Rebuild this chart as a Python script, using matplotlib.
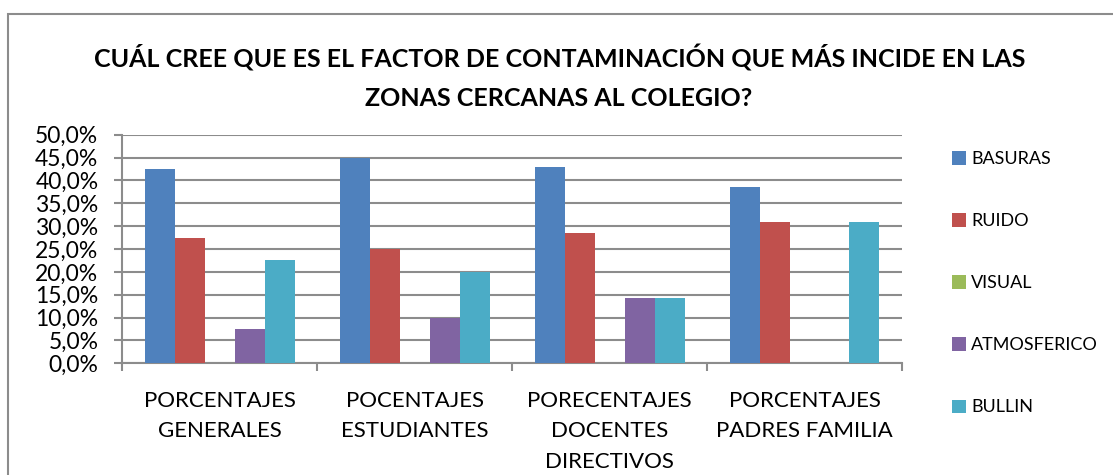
import numpy as np
import matplotlib.pyplot as plt
from matplotlib.patches import Rectangle

# datos
categorias = ['PORCENTAJES\nGENERALES', 'POCENTAJES\nESTUDIANTES',
              'PORECENTAJES\nDOCENTES\nDIRECTIVOS', 'PORCENTAJES\nPADRES FAMILIA']
series = ['BASURAS', 'RUIDO', 'VISUAL', 'ATMOSFERICO', 'BULLIN']
basuras = [42.5, 45.0, 42.9, 38.5]
ruido = [27.5, 25.0, 28.6, 30.8]
visual = [0.0, 0.0, 0.0, 0.0]
atmosferico = [7.5, 10.0, 14.3, 0.0]
bullin = [22.5, 20.0, 14.3, 30.8]
colores = ['#4F81BD', '#C0504D', '#9BBB59', '#8064A2', '#4BACC6']

plt.rcParams['font.family'] = ['Lato', 'DejaVu Sans']

W, H = 1113, 475
fig = plt.figure(figsize=(W / 100, H / 100), dpi=100)

# marco exterior del gráfico
fig.patches.append(Rectangle((8 / W, -0.1), 1.2, (H - 14) / H + 0.1,
                             transform=fig.transFigure, fill=False,
                             edgecolor='#8C8C8C', linewidth=1.5))

ax = fig.add_axes([122 / W, (H - 363.3) / H, (902 - 122) / W, (363.3 - 134.7) / H])

x = np.arange(len(categorias))
w = 1 / 6.5
for j, (nombre, valores) in enumerate(zip(series, [basuras, ruido, visual, atmosferico, bullin])):
    ax.bar(x + (j - 2) * w, valores, w, color=colores[j], label=nombre,
           linewidth=0, zorder=3)

ax.set_xlim(-0.5, 3.5)
ax.set_ylim(0, 50)
ax.set_yticks(np.arange(0, 51, 5))
ax.set_yticklabels([f'{v:.1f}%'.replace('.', ',') for v in np.arange(0, 51, 5)])
ax.yaxis.grid(True, color='#8C8C8C', linewidth=1.5, zorder=0)

ax.set_xticks(x)
ax.set_xticklabels(categorias, linespacing=1.65, va='top')
ax.set_xticks(np.arange(-0.5, 4, 1), minor=True)
ax.tick_params(axis='x', which='major', length=0, pad=20, labelsize=16)
ax.tick_params(axis='x', which='minor', length=6, width=1.5, color='#8C8C8C')
ax.tick_params(axis='y', length=6, width=1.5, color='#8C8C8C', pad=11, labelsize=16.5)

for s in ['top', 'right']:
    ax.spines[s].set_visible(False)
for s in ['left', 'bottom']:
    ax.spines[s].set_color('#8C8C8C')
    ax.spines[s].set_linewidth(1.5)

fig.text(560 / W, 1 - 58 / H, 'CUÁL CREE QUE ES EL FACTOR DE CONTAMINACIÓN QUE MÁS INCIDE EN LAS',
         ha='center', va='center', fontsize=18, fontweight='bold')
fig.text(559 / W, 1 - 98 / H, 'ZONAS CERCANAS AL COLEGIO?',
         ha='center', va='center', fontsize=18, fontweight='bold')

fig.legend(loc='upper left', bbox_to_anchor=(936 / W, 1 - 135 / H), frameon=False,
           fontsize=13, handlelength=0.75, handleheight=0.75, handletextpad=0.3,
           labelspacing=2.55)

fig.savefig('out.png', dpi=100)
